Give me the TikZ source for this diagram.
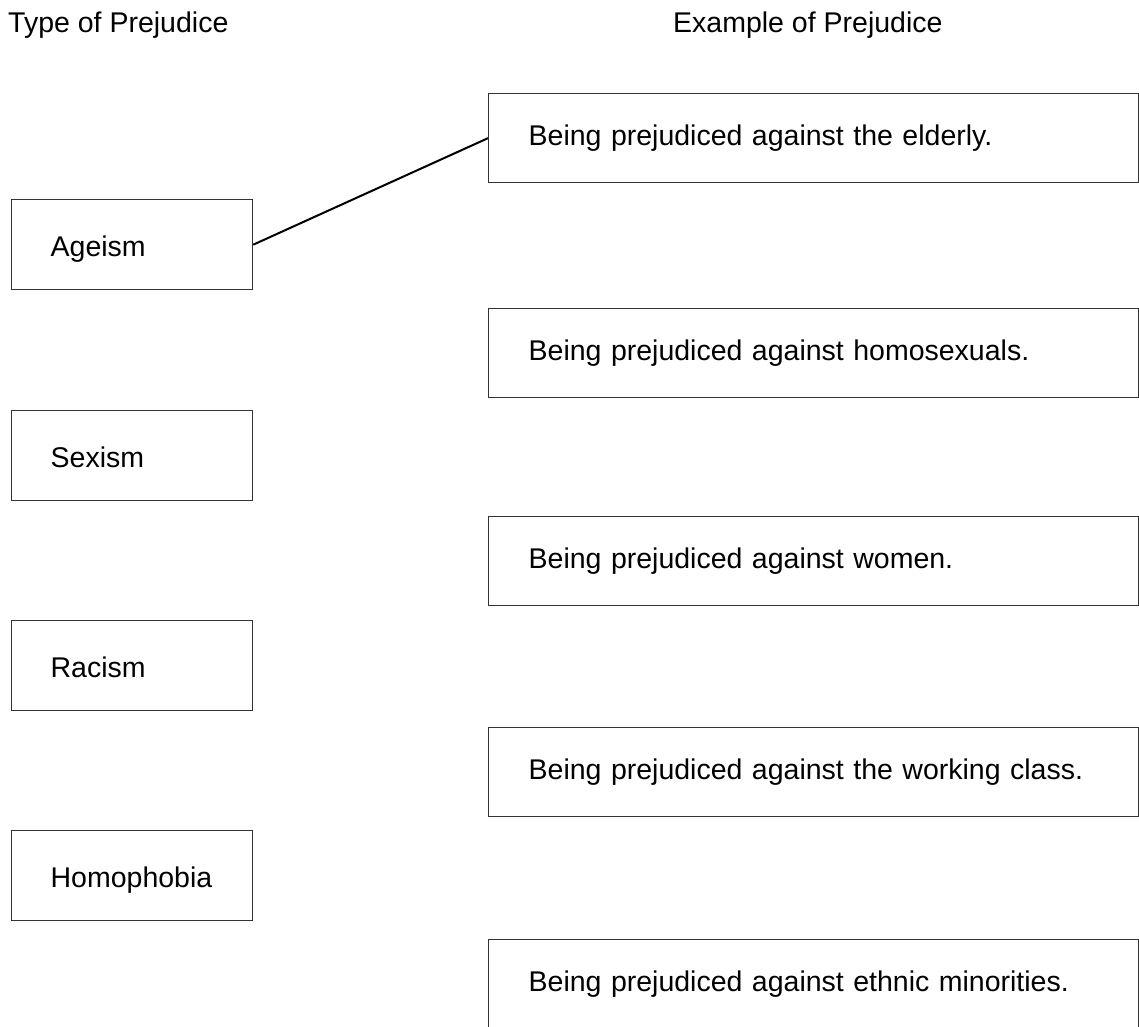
\documentclass[tikz,border=0pt]{standalone}
\usepackage{fontspec}
\setmainfont{Liberation Sans}
\begin{document}
\begin{tikzpicture}[x=1pt,y=-1pt,
  every node/.style={font=\fontsize{28.5}{34}\selectfont},
  typebox/.style={draw=black!80,line width=1.3pt,anchor=north west,inner ysep=0pt,inner xsep=39pt,
    text width=163pt,align=left,text height=57pt,text depth=33pt},
  examplebox/.style={draw=black!80,line width=1.3pt,anchor=north west,inner ysep=0pt,inner xsep=40pt,
    text width=570pt,align=left,text height=52pt,text depth=37pt},
  header/.style={anchor=base west,inner sep=0pt},
  connector/.style={line width=2pt,black}]
\useasboundingbox (0,0) rectangle (1139,1026);
\node[header] (h1) at (8,32) {Type of Prejudice};
\node[header] (h2) at (673,32) {Example of Prejudice};
\node[typebox] (ageism) at (11,199) {Ageism};
\node[typebox] (sexism) at (11,410) {Sexism};
\node[typebox] (racism) at (11,620) {Racism};
\node[typebox] (homophobia) at (11,830) {Homophobia};
\node[examplebox] (elderly) at (488,93) {Being prejudiced against the elderly.};
\node[examplebox] (homosexuals) at (488,308) {Being prejudiced against homosexuals.};
\node[examplebox] (women) at (488,516) {Being prejudiced against women.};
\node[examplebox] (working) at (488,727) {Being prejudiced against the working class.};
\node[examplebox] (ethnic) at (488,939) {Being prejudiced against ethnic minorities.};
\draw[connector] (ageism.east) -- (elderly.west);
\end{tikzpicture}
\end{document}
